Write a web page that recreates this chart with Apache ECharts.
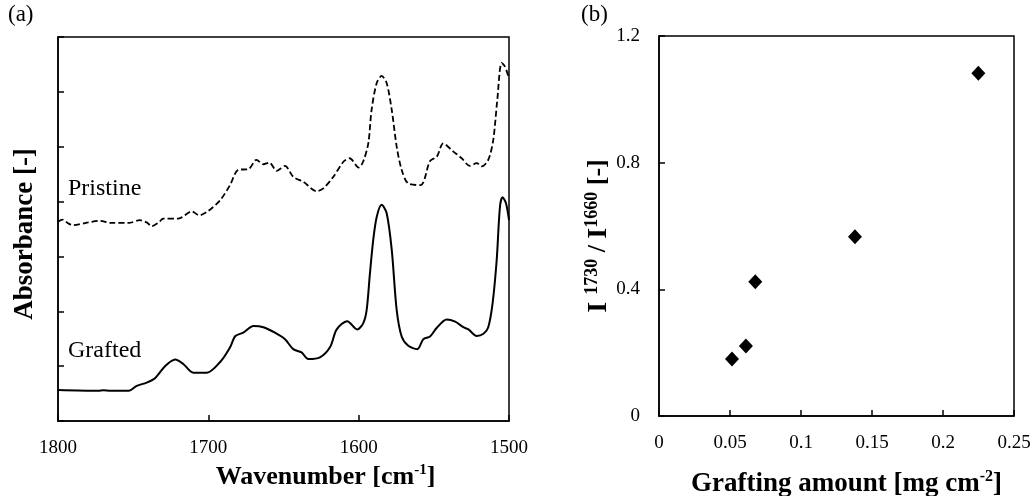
<!DOCTYPE html>
<html>
<head>
<meta charset="utf-8">
<script src="https://cdn.jsdelivr.net/npm/echarts@6/dist/echarts.min.js"></script>
<style>html,body{margin:0;padding:0;background:#fff;}#c{width:1033px;height:496px;}</style>
</head>
<body>
<div id="c"></div>
<script>
// Panel (a): FTIR spectra
var pristineWn = [1800,1797,1793,1790,1780,1772,1765,1753,1745.5,1741,1737.7,1733,1730,1720,1711,1706,1700,1692,1685.6,1680,1673.4,1668,1663.4,1659.4,1654.5,1649,1643.5,1636.8,1628,1623.5,1616.9,1610,1606,1600,1597,1593.6,1591.4,1588,1584.7,1581.4,1578,1574.7,1571.4,1567,1558.8,1552.5,1548,1543.7,1537,1531.5,1526,1521.5,1518.2,1513.8,1510.5,1507.8,1504.9,1502.7,1500];
var pristineAbs = [3.63,3.67,3.60,3.57,3.62,3.65,3.61,3.61,3.66,3.62,3.55,3.62,3.69,3.69,3.82,3.75,3.83,4.03,4.30,4.58,4.59,4.76,4.68,4.71,4.56,4.65,4.45,4.36,4.19,4.24,4.45,4.73,4.79,4.62,4.73,5.06,5.67,6.16,6.29,6.16,5.67,5.00,4.58,4.33,4.30,4.74,4.82,5.06,4.91,4.79,4.65,4.70,4.64,4.76,5.12,5.85,6.53,6.46,6.25];
var graftedWn = [1800,1773,1770,1765,1753,1747.6,1741,1735.5,1728.8,1722,1716.7,1710,1701,1692,1685.6,1682,1676.7,1670,1663.4,1655.7,1649,1643.5,1638,1633.5,1625.8,1619,1614.6,1607.6,1601,1597,1594.7,1592.5,1590.3,1588,1584.7,1581.4,1578,1574.7,1571.4,1567,1561,1557,1552.5,1548,1541.4,1535.8,1530.3,1527,1521.5,1517,1513.8,1510.9,1508.2,1506,1504.3,1502,1500];
var graftedAbs = [0.565,0.55,0.56,0.55,0.55,0.64,0.70,0.78,1.00,1.12,1.04,0.88,0.88,1.08,1.34,1.55,1.61,1.73,1.71,1.61,1.49,1.31,1.25,1.13,1.16,1.35,1.67,1.82,1.67,1.78,2.02,2.69,3.30,3.72,3.94,3.79,3.12,2.02,1.54,1.37,1.31,1.49,1.54,1.70,1.85,1.81,1.71,1.67,1.55,1.59,1.71,2.15,2.93,3.91,4.08,3.97,3.66];
var spectrumLabels = ['Pristine', 'Grafted'];
var panelLabels = ['(a)', '(b)'];

// Panel (b): intensity ratio vs grafting amount
var graftingAmount = [0.0514, 0.0612, 0.0678, 0.138, 0.2249];
var intensityRatio = [0.18, 0.221, 0.424, 0.566, 1.082];

function zip(a, b) { return a.map(function (v, i) { return [v, b[i]]; }); }

var FONT = '"Liberation Serif","Times New Roman",serif';
var chart = echarts.init(document.getElementById('c'));
chart.setOption({
  animation: false,
  backgroundColor: '#fff',
  textStyle: { fontFamily: FONT, color: '#000' },
  grid: [
    { left: 58, top: 37, width: 451, height: 384, show: true, borderColor: '#000', borderWidth: 1.5, containLabel: false, outerBoundsMode: 'none' },
    { left: 659, top: 36, width: 355, height: 380, show: true, borderColor: '#000', borderWidth: 1.5, containLabel: false, outerBoundsMode: 'none' }
  ],
  xAxis: [
    {
      gridIndex: 0, type: 'value', inverse: true, min: 1500, max: 1800, interval: 100,
      axisLine: { show: true, lineStyle: { color: '#000', width: 1.5 } },
      axisTick: { show: true, inside: true, length: 6, lineStyle: { color: '#000', width: 1.5 } },
      axisLabel: { fontFamily: FONT, fontSize: 19, color: '#000', margin: 18,
        formatter: function (v) { return String(v); } },
      splitLine: { show: false },
      name: '{a|Wavenumber [cm}{s|-1}{a|]}', nameLocation: 'middle', nameGap: 28,
      nameTextStyle: { padding: [0, 0, 0, 84], rich: {
        a: { fontFamily: FONT, fontSize: 26, fontWeight: 'bold', color: '#000', lineHeight: 28 },
        s: { fontFamily: FONT, fontSize: 15, fontWeight: 'bold', color: '#000', lineHeight: 15, verticalAlign: 'top' }
      } }
    },
    {
      gridIndex: 1, type: 'value', min: 0, max: 0.25, interval: 0.05,
      axisLine: { show: true, lineStyle: { color: '#000', width: 1.5 } },
      axisTick: { show: true, inside: true, length: 6, lineStyle: { color: '#000', width: 1.5 } },
      axisLabel: { fontFamily: FONT, fontSize: 19, color: '#000', margin: 18,
        formatter: function (v) { return String(Math.round(v * 100) / 100); } },
      splitLine: { show: false },
      name: '{a|Grafting amount [mg cm}{s|-2}{a|]}', nameLocation: 'middle', nameGap: 53,
      nameTextStyle: { padding: [0, 0, 0, 20], rich: {
        a: { fontFamily: FONT, fontSize: 27, fontWeight: 'bold', color: '#000', lineHeight: 30 },
        s: { fontFamily: FONT, fontSize: 16, fontWeight: 'bold', color: '#000', lineHeight: 16, verticalAlign: 'top' }
      } }
    }
  ],
  yAxis: [
    {
      gridIndex: 0, type: 'value', min: 0, max: 7, interval: 1,
      axisLine: { show: true, lineStyle: { color: '#000', width: 1.5 } },
      axisTick: { show: true, inside: true, length: 6, lineStyle: { color: '#000', width: 1.5 } },
      axisLabel: { show: false },
      splitLine: { show: false },
      name: 'Absorbance [-]', nameLocation: 'middle', nameGap: 19, nameRotate: 90,
      nameTextStyle: { fontFamily: FONT, fontSize: 27, fontWeight: 'bold', color: '#000', padding: [0, 10, 0, 0] }
    },
    {
      gridIndex: 1, type: 'value', min: 0, max: 1.2, interval: 0.4,
      axisLine: { show: true, lineStyle: { color: '#000', width: 1.5 } },
      axisTick: { show: true, inside: true, length: 6, lineStyle: { color: '#000', width: 1.5 } },
      axisLabel: { fontFamily: FONT, fontSize: 19, color: '#000', margin: 19,
        formatter: function (v) { return String(Math.round(v * 10) / 10); } },
      splitLine: { show: false },
      name: '{b|I }{s|1730}{a| / }{b|I}{s|1660}{a| [-]}', nameLocation: 'middle', nameGap: 40, nameRotate: 90,
      nameTextStyle: { padding: [0, 20, 0, 0], rich: {
        a: { fontFamily: FONT, fontSize: 26, fontWeight: 'bold', color: '#000', lineHeight: 30 },
        b: { fontFamily: FONT, fontSize: 28, fontWeight: 'bold', color: '#000', lineHeight: 30 },
        s: { fontFamily: FONT, fontSize: 18, fontWeight: 'bold', color: '#000', lineHeight: 18, verticalAlign: 'top' }
      } }
    }
  ],
  graphic: [
    { type: 'text', left: 68, top: 177, style: { text: spectrumLabels[0], font: '24px ' + FONT, fill: '#000' } },
    { type: 'text', left: 68, top: 339, style: { text: spectrumLabels[1], font: '24px ' + FONT, fill: '#000' } },
    { type: 'text', left: 8, top: 3, style: { text: panelLabels[0], font: '23px ' + FONT, fill: '#000' } },
    { type: 'text', left: 581, top: 3, style: { text: panelLabels[1], font: '23px ' + FONT, fill: '#000' } }
  ],
  series: [
    {
      type: 'line', xAxisIndex: 0, yAxisIndex: 0, data: zip(pristineWn, pristineAbs),
      showSymbol: false, smooth: 0.3, clip: true,
      lineStyle: { color: '#000', width: 1.8, type: [6, 3] }
    },
    {
      type: 'line', xAxisIndex: 0, yAxisIndex: 0, data: zip(graftedWn, graftedAbs),
      showSymbol: false, smooth: 0.3, clip: true,
      lineStyle: { color: '#000', width: 2 }
    },
    {
      type: 'scatter', xAxisIndex: 1, yAxisIndex: 1, data: zip(graftingAmount, intensityRatio),
      symbol: 'diamond', symbolSize: [14, 15], itemStyle: { color: '#000', opacity: 1 }
    }
  ]
});
</script>
</body>
</html>
